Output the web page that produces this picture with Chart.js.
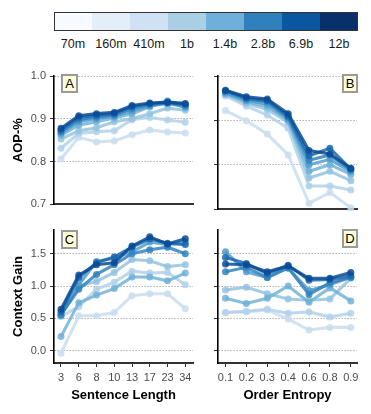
<!DOCTYPE html>
<html>
<head>
<meta charset="utf-8">
<script src="https://cdn.jsdelivr.net/npm/chart.js@4.4.1/dist/chart.umd.min.js"></script>
<style>
  html, body { margin:0; padding:0; background:#ffffff; }
  body { width:371px; height:414px; position:relative; overflow:hidden; font-family:"Liberation Sans", Arial, sans-serif; }
  canvas { position:absolute; }
  .cell { position:absolute; top:12px; height:19px; }
  .lbl { position:absolute; top:37px; width:40px; text-align:center; font-size:12.5px; color:#1a1a1a; line-height:15px; }
  .tag { position:absolute; box-sizing:border-box; border:2px solid #9a9a9a; background:#ffffd6; font-size:13px; line-height:15px; text-align:center; color:#000; }
</style>
</head>
<body>
<div id="legend"></div>
<canvas id="cA" width="200" height="154" style="left:0px;top:61px"></canvas>
<canvas id="cB" width="171" height="154" style="left:200px;top:61px"></canvas>
<canvas id="cC" width="200" height="199" style="left:0px;top:215px"></canvas>
<canvas id="cD" width="171" height="199" style="left:200px;top:215px"></canvas>
<div class="tag" style="left:61px;top:74px;width:17px;height:19px">A</div>
<div class="tag" style="left:342px;top:74px;width:16px;height:19px">B</div>
<div class="tag" style="left:61px;top:230px;width:17px;height:19px">C</div>
<div class="tag" style="left:342px;top:229px;width:16px;height:19px">D</div>
<script>
// ---------------- data ----------------
const modelSizes = ['70m','160m','410m','1b','1.4b','2.8b','6.9b','12b'];
const legendColors = ['#f7fbff','#e3eef9','#cfe1f2','#a9cfe5','#6eb0d8','#3080bd','#0b56a0','#08306b'];
const lineColors = ['#c9def0','#b3d2ea','#94c4e0','#72b1d8','#519dcd','#3384c0','#1a67ae','#0a4b96'];

const sentenceLengths = ['3','6','8','10','13','17','23','34'];
const orderEntropies = ['0.1','0.2','0.3','0.4','0.6','0.8','0.9'];

// Panel A: AOP-% by sentence length (rows follow modelSizes)
const aopByLength = [
  [0.806, 0.857, 0.846, 0.848, 0.863, 0.874, 0.869, 0.867],
  [0.831, 0.866, 0.870, 0.872, 0.898, 0.903, 0.897, 0.892],
  [0.853, 0.872, 0.879, 0.893, 0.900, 0.912, 0.925, 0.920],
  [0.862, 0.885, 0.893, 0.902, 0.912, 0.928, 0.942, 0.925],
  [0.866, 0.893, 0.900, 0.906, 0.918, 0.930, 0.936, 0.928],
  [0.870, 0.898, 0.904, 0.909, 0.924, 0.933, 0.937, 0.931],
  [0.874, 0.903, 0.908, 0.912, 0.928, 0.935, 0.938, 0.934],
  [0.878, 0.907, 0.912, 0.915, 0.931, 0.937, 0.939, 0.936]
];
// Panel B: AOP-% by order entropy
const aopByEntropy = [
  [0.922, 0.899, 0.869, 0.822, 0.713, 0.737, 0.703],
  [0.955, 0.932, 0.912, 0.882, 0.752, 0.752, 0.743],
  [0.958, 0.938, 0.925, 0.895, 0.770, 0.785, 0.764],
  [0.960, 0.942, 0.932, 0.900, 0.785, 0.800, 0.778],
  [0.962, 0.945, 0.937, 0.903, 0.800, 0.812, 0.784],
  [0.965, 0.948, 0.942, 0.907, 0.810, 0.822, 0.788],
  [0.967, 0.950, 0.945, 0.910, 0.820, 0.837, 0.790],
  [0.968, 0.953, 0.948, 0.915, 0.832, 0.824, 0.792]
];
// Panel C: Context Gain by sentence length
const gainByLength = [
  [-0.04, 0.54, 0.54, 0.59, 0.85, 0.88, 0.88, 0.65],
  [0.53, 0.68, 0.95, 1.06, 1.23, 1.20, 1.21, 1.02],
  [0.55, 1.00, 1.07, 1.21, 1.41, 1.39, 1.30, 1.33],
  [0.22, 0.74, 0.86, 0.96, 1.14, 1.14, 1.08, 1.20],
  [0.54, 1.02, 1.38, 1.43, 1.53, 1.68, 1.64, 1.68],
  [0.56, 0.95, 1.18, 1.33, 1.50, 1.56, 1.60, 1.50],
  [0.60, 1.13, 1.36, 1.45, 1.60, 1.73, 1.66, 1.64],
  [0.64, 1.17, 1.33, 1.36, 1.62, 1.76, 1.65, 1.73]
];
// Panel D: Context Gain by order entropy
const gainByEntropy = [
  [0.59, 0.60, 0.63, 0.49, 0.32, 0.36, 0.36],
  [0.59, 0.61, 0.64, 0.58, 0.60, 0.52, 0.58],
  [0.94, 0.98, 0.88, 0.80, 0.78, 0.80, 1.12],
  [0.81, 0.73, 0.81, 1.00, 0.75, 0.97, 0.77],
  [1.53, 1.22, 1.13, 1.28, 0.93, 1.02, 1.14],
  [1.22, 1.29, 1.13, 1.28, 0.87, 1.05, 1.13],
  [1.44, 1.35, 1.19, 1.32, 1.09, 1.10, 1.16],
  [1.34, 1.33, 1.22, 1.31, 1.12, 1.12, 1.21]
];

const aopTicks = [0.7, 0.8, 0.9, 1.0];
const gainTicks = [0.0, 0.5, 1.0, 1.5];

// ---------------- legend ----------------
(function(){
  const leg = document.getElementById('legend');
  const x0 = 54, w = 38;
  modelSizes.forEach((m, i) => {
    const c = document.createElement('div');
    c.className = 'cell';
    c.style.left = (x0 + i*w) + 'px';
    c.style.width = w + 'px';
    c.style.background = legendColors[i];
    leg.appendChild(c);
    const l = document.createElement('div');
    l.className = 'lbl';
    l.style.left = (x0 + i*w + w/2 - 20) + 'px';
    l.textContent = m;
    leg.appendChild(l);
  });
  const b = document.createElement('div');
  b.style.cssText = 'position:absolute;left:54px;top:12px;width:' + (8*w) + 'px;height:19px;box-sizing:border-box;border:1.5px solid #333;';
  leg.appendChild(b);
})();

// ---------------- charts ----------------
const FONT = '"Liberation Sans", Arial, sans-serif';
function hexA(h, a){
  const r = parseInt(h.slice(1,3),16), g = parseInt(h.slice(3,5),16), b = parseInt(h.slice(5,7),16);
  return 'rgba(' + r + ',' + g + ',' + b + ',' + a + ')';
}

function makePanel(id, cats, rows, cfg){
  const datasets = rows.map((vals, i) => ({
    label: modelSizes[i],
    data: vals.map((v, j) => ({x: j + 1, y: v})),
    borderColor: hexA(lineColors[i], 0.85),
    backgroundColor: hexA(lineColors[i], 0.85),
    pointBackgroundColor: hexA(lineColors[i], 0.85),
    pointBorderWidth: 0,
    pointRadius: 3.5,
    borderWidth: 3.1,
    tension: 0,
    order: rows.length - 1 - i,
    clip: false
  }));
  new Chart(document.getElementById(id), {
    type: 'line',
    data: { datasets },
    options: {
      responsive: false,
      animation: false,
      devicePixelRatio: 1,
      layout: { padding: cfg.padding },
      plugins: { legend: { display: false }, tooltip: { enabled: false } },
      scales: {
        x: {
          type: 'linear',
          min: cfg.xmin, max: cfg.xmax,
          afterBuildTicks: s => { s.ticks = cats.map((c, j) => ({value: j + 1})); },
          afterFit: s => { s.height = cfg.xh; },
          ticks: {
            display: cfg.xLabels,
            callback: (v) => cats[Math.round(v) - 1],
            font: { family: FONT, size: 11 },
            color: '#4d4d4d',
            padding: 4,
            maxRotation: 0, autoSkip: false
          },
          grid: { display: cfg.xLabels, drawOnChartArea: false, drawTicks: cfg.xLabels, tickLength: 4, tickColor: '#333', tickWidth: 1, color: '#333' },
          border: { display: true, color: '#333333', width: 2 },
          title: { display: !!cfg.xTitle, text: cfg.xTitle || '', color: '#000', font: { family: FONT, size: 13, weight: 'bold' }, padding: { top: 0, bottom: 11 } }
        },
        y: {
          type: 'linear',
          min: cfg.ymin, max: cfg.ymax,
          afterBuildTicks: s => { s.ticks = cfg.yticks.map(v => ({value: v})); },
          afterFit: s => { s.width = cfg.yw; },
          ticks: {
            display: cfg.yLabels,
            callback: (v) => Number(v).toFixed(1),
            font: { family: FONT, size: 11 },
            color: '#4d4d4d',
            padding: 4
          },
          grid: { display: true, drawOnChartArea: true, drawTicks: true, tickLength: 4, color: '#8a8a8a', lineWidth: 1, tickColor: '#333', tickWidth: 1, tickBorderDash: [] },
          border: { display: true, color: '#000000', width: 1.6, dash: [1, 2] },
          title: { display: !!cfg.yTitle, text: cfg.yTitle || '', color: '#000', font: { family: FONT, size: 13, weight: 'bold' }, padding: { top: 11, bottom: 0 } }
        }
      }
    }
  });
}

const lenX = { xmin: 0.606, xmax: 8.434 };
const entX = { xmin: 0.641, xmax: 7.297 };

makePanel('cA', sentenceLengths, aopByLength, Object.assign({}, lenX, {
  padding: { left: 0, right: 7, top: 15, bottom: 0 }, xh: 6, yw: 54,
  ymin: 0.7, ymax: 1.0, yticks: aopTicks, xLabels: false, yLabels: true, yTitle: 'AOP-%'
}));
makePanel('cB', orderEntropies, aopByEntropy, Object.assign({}, entX, {
  padding: { left: 0, right: 14, top: 15, bottom: 0 }, xh: 6, yw: 18,
  ymin: 0.7, ymax: 1.0, yticks: aopTicks, xLabels: false, yLabels: false
}));
makePanel('cC', sentenceLengths, gainByLength, Object.assign({}, lenX, {
  padding: { left: 0, right: 7, top: 15, bottom: 0 }, xh: 51, yw: 54,
  ymin: -0.19, ymax: 1.866, yticks: gainTicks, xLabels: true, yLabels: true, yTitle: 'Context Gain', xTitle: 'Sentence Length'
}));
makePanel('cD', orderEntropies, gainByEntropy, Object.assign({}, entX, {
  padding: { left: 0, right: 14, top: 15, bottom: 0 }, xh: 51, yw: 18,
  ymin: -0.19, ymax: 1.866, yticks: gainTicks, xLabels: true, yLabels: false, xTitle: 'Order Entropy'
}));
</script>
</body>
</html>
